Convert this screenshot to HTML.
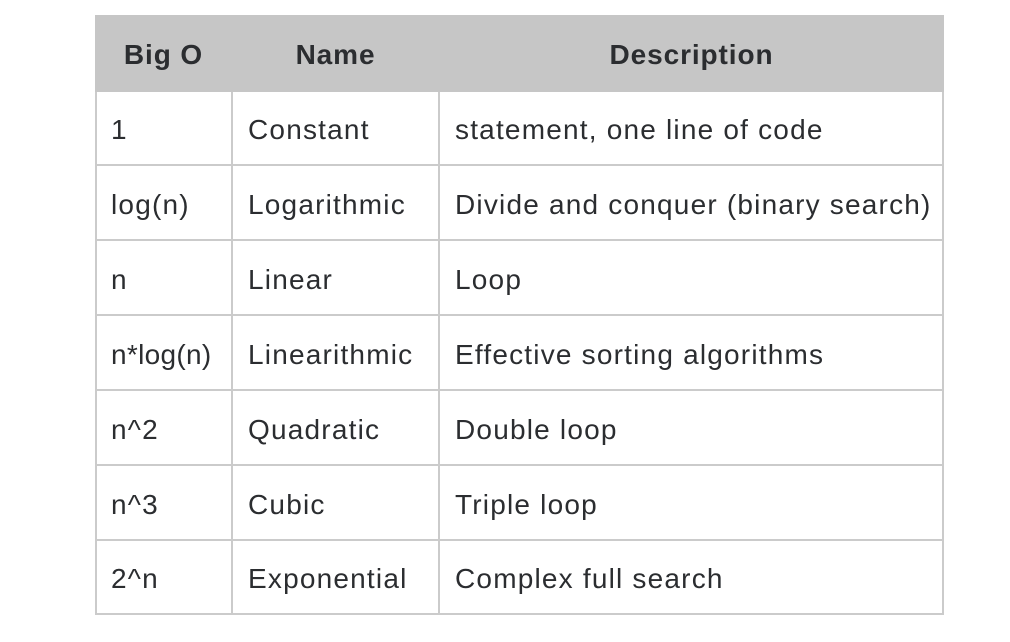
<!DOCTYPE html>
<html><head><style>
body{margin:0;width:1010px;height:642px;background:#fff;font-family:"Liberation Sans",sans-serif;color:#2b2d30;position:relative;overflow:hidden}
.h{position:absolute;left:95px;top:15px;width:849px;height:77px;background:#c6c6c6}
.ht{position:absolute;top:15px;height:77px;line-height:79px;font-weight:bold;font-size:28px;letter-spacing:0.9px;text-align:center}
.l{position:absolute;background:#cbcbcb}
.t{position:absolute;font-size:28px;line-height:30px;letter-spacing:1.2px}
</style></head><body>
<div class="h"></div>
<div class="ht" style="left:95px;width:137px">Big O</div>
<div class="ht" style="left:232px;width:207px">Name</div>
<div class="ht" style="left:439px;width:505px">Description</div>
<div class="l" style="left:95px;top:92px;width:2px;height:523px"></div>
<div class="l" style="left:231px;top:92px;width:2px;height:523px"></div>
<div class="l" style="left:438px;top:92px;width:2px;height:523px"></div>
<div class="l" style="left:942px;top:92px;width:2px;height:523px"></div>
<div class="l" style="left:95px;top:164px;width:849px;height:2px"></div>
<div class="l" style="left:95px;top:239px;width:849px;height:2px"></div>
<div class="l" style="left:95px;top:314px;width:849px;height:2px"></div>
<div class="l" style="left:95px;top:389px;width:849px;height:2px"></div>
<div class="l" style="left:95px;top:464px;width:849px;height:2px"></div>
<div class="l" style="left:95px;top:539px;width:849px;height:2px"></div>
<div class="l" style="left:95px;top:613px;width:849px;height:2px"></div>

<div class="t" style="left:111px;top:115px">1</div>
<div class="t" style="left:248px;top:115px">Constant</div>
<div class="t" style="left:455px;top:115px">statement, one line of code</div>
<div class="t" style="left:111px;top:190px">log(n)</div>
<div class="t" style="left:248px;top:190px">Logarithmic</div>
<div class="t" style="left:455px;top:190px">Divide and conquer (binary search)</div>
<div class="t" style="left:111px;top:265px">n</div>
<div class="t" style="left:248px;top:265px">Linear</div>
<div class="t" style="left:455px;top:265px">Loop</div>
<div class="t" style="left:111px;top:340px;letter-spacing:0.3px">n*log(n)</div>
<div class="t" style="left:248px;top:340px">Linearithmic</div>
<div class="t" style="left:455px;top:340px">Effective sorting algorithms</div>
<div class="t" style="left:111px;top:415px">n^2</div>
<div class="t" style="left:248px;top:415px">Quadratic</div>
<div class="t" style="left:455px;top:415px">Double loop</div>
<div class="t" style="left:111px;top:490px">n^3</div>
<div class="t" style="left:248px;top:490px">Cubic</div>
<div class="t" style="left:455px;top:490px">Triple loop</div>
<div class="t" style="left:111px;top:564px">2^n</div>
<div class="t" style="left:248px;top:564px">Exponential</div>
<div class="t" style="left:455px;top:564px">Complex full search</div>
</body></html>
